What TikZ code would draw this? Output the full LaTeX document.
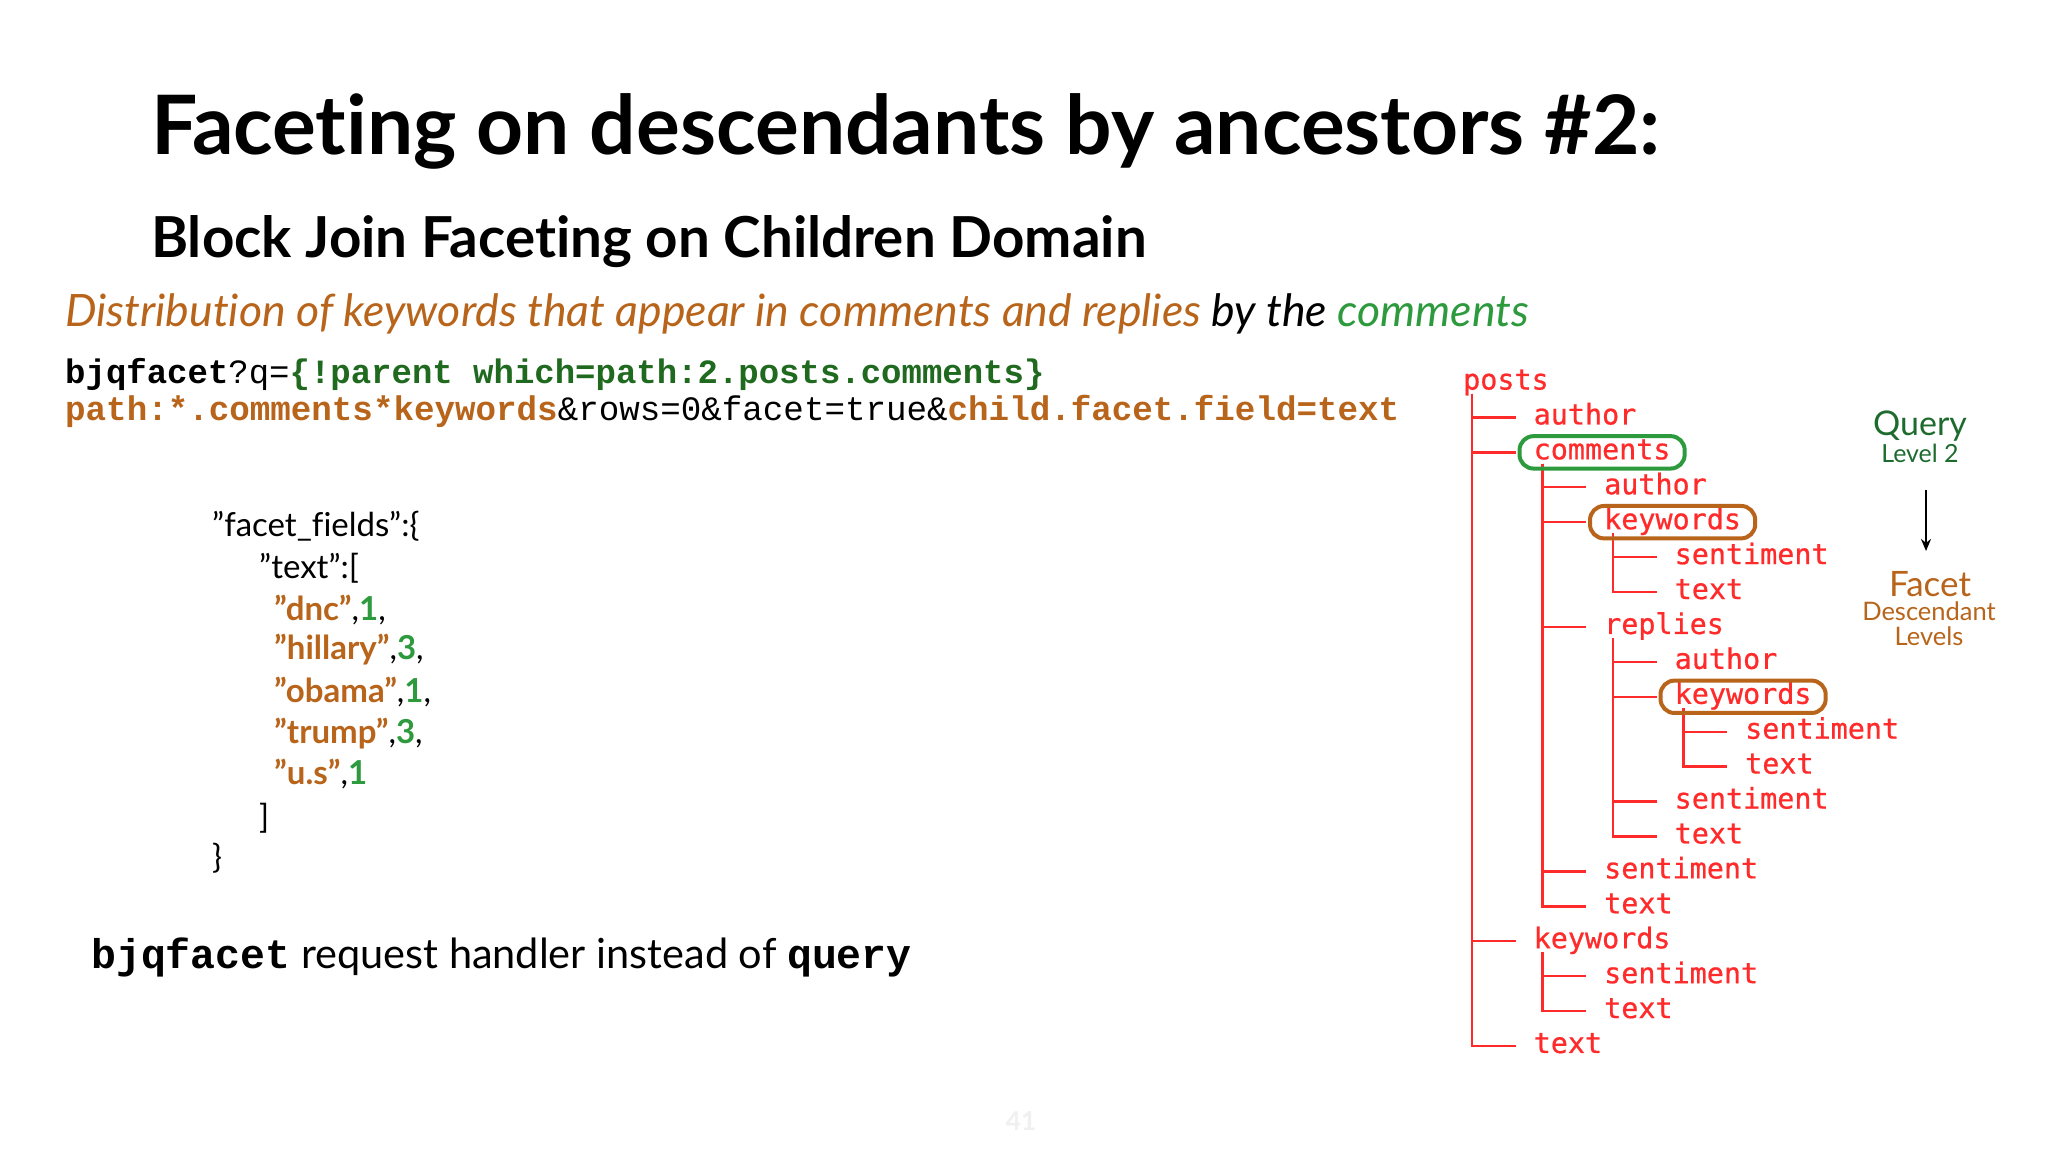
\documentclass[tikz,border=0pt]{standalone}
\usepackage{fontspec}
\setmainfont{Lato}[Ligatures={NoCommon}]
\newfontfamily\codefont{Liberation Mono}
\newfontfamily\treefont{DejaVu Sans Mono}[FakeBold=0.7]
\usetikzlibrary{fit,arrows.meta}
\definecolor{tred}{HTML}{FF2A2A}
\definecolor{brn}{HTML}{B8651B}
\definecolor{grn}{HTML}{2E9A3E}
\definecolor{dgrn}{HTML}{1E6B2E}
\definecolor{cgrn}{HTML}{1F6A1F}
\newcommand{\qq}{\symbol{34}}
\begin{document}
\begin{tikzpicture}[x=1pt,y=-1pt,
  tn/.style={inner sep=0pt,anchor=west,text=tred,font=\treefont\fontsize{28.4}{30}\selectfont,text height=20pt,text depth=6pt},
  tl/.style={draw=tred,line width=2.4pt},
  jl/.style={inner sep=0pt,anchor=west,font=\fontsize{33}{36}\selectfont},
  hbox/.style={draw,line width=4pt,rounded corners=14pt,inner xsep=14pt,inner ysep=3pt}]
\useasboundingbox (0,0) rectangle (2048,1152);
\fill[white] (0,0) rectangle (2048,1152);
% titles
\node[anchor=base west,inner sep=0] (title) at (151,154) {\fontsize{82}{90}\selectfont\bfseries Faceting on descendants by ancestors \#2:};
\node[anchor=base west,inner sep=0] (sub) at (151,257) {\fontsize{56.5}{62}\selectfont\bfseries Block Join Faceting on Children Domain};
\node[anchor=base west,inner sep=0] (desc) at (65,326) {\fontsize{44.6}{48}\selectfont\itshape\color{brn}Distribution of keywords that appear in comments and replies \color{black}by the \color{grn}comments};
\node[anchor=base west,inner sep=0] (code1) at (65,383) {\codefont\fontsize{34}{38}\selectfont\textbf{bjqfacet}?q=\textcolor{cgrn}{\textbf{\{!parent which=path:2.posts.comments\}}}};
\node[anchor=base west,inner sep=0] (code2) at (65,420) {\codefont\fontsize{34.2}{38}\selectfont\textcolor{brn}{\textbf{path:*.comments*keywords}}\&rows=0\&facet=true\&\textcolor{brn}{\textbf{child.facet.field=text}}};
% json
\node[jl] (j1) at (212,526) {\qq facet\_fields\qq:\{};
\node[jl] (j2) at (259,568) {\qq text\qq:[};
\node[jl] (j3) at (274,610) {\textbf{\color{brn}\qq dnc\qq},\textbf{\color{grn}1},};
\node[jl] (j4) at (274,650) {\textbf{\color{brn}\qq hillary\qq},\textbf{\color{grn}3},};
\node[jl] (j5) at (274,692) {\textbf{\color{brn}\qq obama\qq},\textbf{\color{grn}1},};
\node[jl] (j6) at (274,734) {\textbf{\color{brn}\qq trump\qq},\textbf{\color{grn}3},};
\node[jl] (j7) at (274,774) {\textbf{\color{brn}\qq u.s\qq},\textbf{\color{grn}1}};
\node[jl] (j8) at (259,818) {]};
\node[jl] (j9) at (212,858) {\}};
\node[anchor=west,inner sep=0] (bottom) at (91,957) {\fontsize{41.5}{44}\selectfont{\codefont\bfseries bjqfacet} request handler instead of {\codefont\bfseries query}};
\node[text=black!6,font=\fontsize{26}{28}\selectfont\bfseries] (pg) at (1021,1121) {41};
% tree
\def\cx{1463}\def\dx{70.5}\def\ry{382.5}\def\dy{34.92}
\node[tn] (n0) at (\cx,\ry) {posts};
\node[tn] (n1) at (\cx+\dx,\ry+\dy) {author};
\node[tn] (n2) at (\cx+\dx,\ry+2*\dy) {comments};
\node[tn] (n3) at (\cx+2*\dx,\ry+3*\dy) {author};
\node[tn] (n4) at (\cx+2*\dx,\ry+4*\dy) {keywords};
\node[tn] (n5) at (\cx+3*\dx,\ry+5*\dy) {sentiment};
\node[tn] (n6) at (\cx+3*\dx,\ry+6*\dy) {text};
\node[tn] (n7) at (\cx+2*\dx,\ry+7*\dy) {replies};
\node[tn] (n8) at (\cx+3*\dx,\ry+8*\dy) {author};
\node[tn] (n9) at (\cx+3*\dx,\ry+9*\dy) {keywords};
\node[tn] (n10) at (\cx+4*\dx,\ry+10*\dy) {sentiment};
\node[tn] (n11) at (\cx+4*\dx,\ry+11*\dy) {text};
\node[tn] (n12) at (\cx+3*\dx,\ry+12*\dy) {sentiment};
\node[tn] (n13) at (\cx+3*\dx,\ry+13*\dy) {text};
\node[tn] (n14) at (\cx+2*\dx,\ry+14*\dy) {sentiment};
\node[tn] (n15) at (\cx+2*\dx,\ry+15*\dy) {text};
\node[tn] (n16) at (\cx+\dx,\ry+16*\dy) {keywords};
\node[tn] (n17) at (\cx+2*\dx,\ry+17*\dy) {sentiment};
\node[tn] (n18) at (\cx+2*\dx,\ry+18*\dy) {text};
\node[tn] (n19) at (\cx+\dx,\ry+19*\dy) {text};
\foreach \p/\c in {n0/n1,n0/n2,n0/n16,n0/n19,n2/n3,n2/n4,n2/n7,n2/n14,n2/n15,n4/n5,n4/n6,n7/n8,n7/n9,n7/n12,n7/n13,n9/n10,n9/n11,n16/n17,n16/n18}
  \draw[tl] ([xshift=9pt,yshift=2pt]\p.south west) |- ([xshift=-18pt]\c.west);
\node[hbox,draw=grn,fit=(n2)] (b2) {};
\node[hbox,draw=brn,fit=(n4)] (b4) {};
\node[hbox,draw=brn,fit=(n9)] (b9) {};
% legend
\node[text=dgrn,font=\fontsize{34}{36}\selectfont] (q) at (1920,426) {Query};
\node[text=dgrn,font=\fontsize{25}{27}\selectfont] (ql) at (1920,453) {Level 2};
\node[text=brn,font=\fontsize{35}{37}\selectfont] (f) at (1930,584) {Facet};
\node[text=brn,font=\fontsize{25.5}{27}\selectfont] (fd) at (1929,611) {Descendant};
\node[text=brn,font=\fontsize{25.5}{27}\selectfont] (fl) at (1929,636) {Levels};
\draw[line width=2.4pt,-{Stealth[length=12pt,width=10pt]}] (1926,490) -- (1926,551);
\end{tikzpicture}
\end{document}
